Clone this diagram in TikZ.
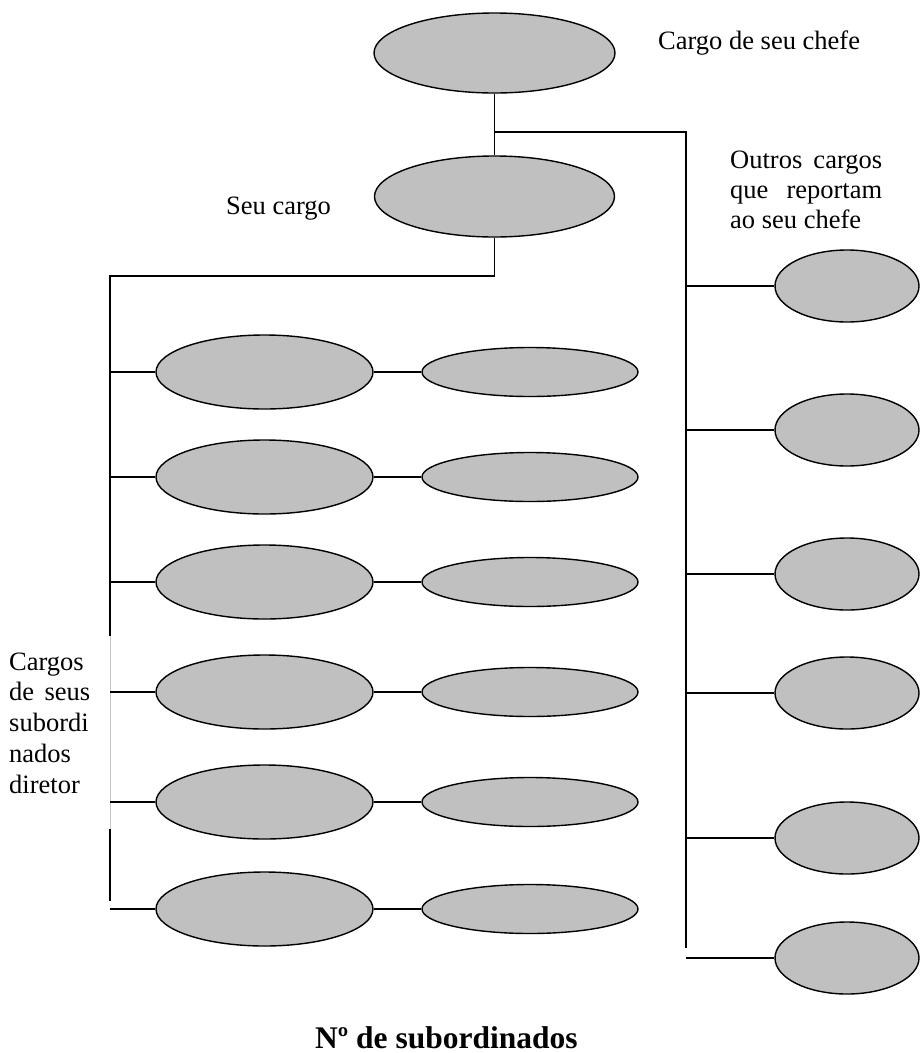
\documentclass[tikz,border=0pt]{standalone}
\usepackage{fontspec}
\setmainfont{Liberation Serif}
\usetikzlibrary{shapes.geometric}
\definecolor{ellgray}{HTML}{C0C0C0}
\begin{document}
\begin{tikzpicture}[x=1pt,y=-1pt,
  ell/.style={draw=black, fill=ellgray, ellipse, inner sep=0pt, line width=1.4pt},
  wire/.style={line width=1.3pt, draw=black},
  lbl/.style={anchor=base west, inner sep=0pt, font=\fontsize{26.5}{30}\selectfont}]
\useasboundingbox (0,0) rectangle (920,1053);

% top ellipses
\node[ell, minimum width=241pt, minimum height=80pt] (chefe) at (494.5,53) {};
\node[ell, minimum width=240pt, minimum height=81pt] (seu) at (494.5,196.5) {};

% spines
\coordinate (j1) at (494.5,132);
\coordinate (j2) at (686,132);
\coordinate (rEnd) at (686,948);
\draw[wire] (chefe.south) -- (seu.north);
\draw[wire] (j1) -- (j2) -- (rEnd);
\coordinate (k1) at (494.5,276);
\coordinate (k2) at (110,276);
\coordinate (k3) at (110,636);
\coordinate (k4) at (110,829);
\coordinate (k5) at (110,901);
\draw[wire] (seu.south) -- (k1) -- (k2) -- (k3);
\draw[draw=gray!45, line width=0.6pt] (k3) -- (k4);
\draw[wire] (k4) -- (k5);

% left rows
\foreach \y [count=\i] in {372,477,582,692,802,909} {
  \node[ell, minimum width=217pt, minimum height=74pt] (a\i) at (264.5,\y) {};
  \node[ell, minimum width=216pt, minimum height=49pt] (b\i) at (530,\y) {};
  \coordinate (l\i) at (110,\y);
  \draw[wire] (a\i.east) -- (b\i.west);
  \draw[wire] (l\i) -- (a\i.west);
}

% right rows
\foreach \y [count=\i] in {286,430,574,693,838,958} {
  \node[ell, minimum width=144pt, minimum height=72pt] (c\i) at (847,\y) {};
  \coordinate (r\i) at (686,\y);
  \draw[wire] (r\i) -- (c\i.west);
}

% texts
\node[lbl] (tchefe) at (658,49) {Cargo de seu chefe};
\node[lbl] (tseu) at (226,214) {Seu cargo};
\node[lbl] (o1) at (730,168) {\makebox[152pt][s]{Outros cargos}};
\node[lbl] (o2) at (730,198) {\makebox[152pt][s]{que reportam}};
\node[lbl] (o3) at (730,228) {ao seu chefe};
\node[lbl] (s1) at (9,670) {Cargos};
\node[lbl] (s2) at (9,700.5) {\makebox[81pt][s]{de seus}};
\node[lbl] (s3) at (9,731.5) {subordi};
\node[lbl] (s4) at (9,762) {nados};
\node[lbl] (s5) at (9,793) {diretor};
\node[anchor=base west, inner sep=0pt, font=\bfseries\fontsize{31.5}{36}\selectfont] (nsub) at (315,1048) {Nº de subordinados};
\end{tikzpicture}
\end{document}
